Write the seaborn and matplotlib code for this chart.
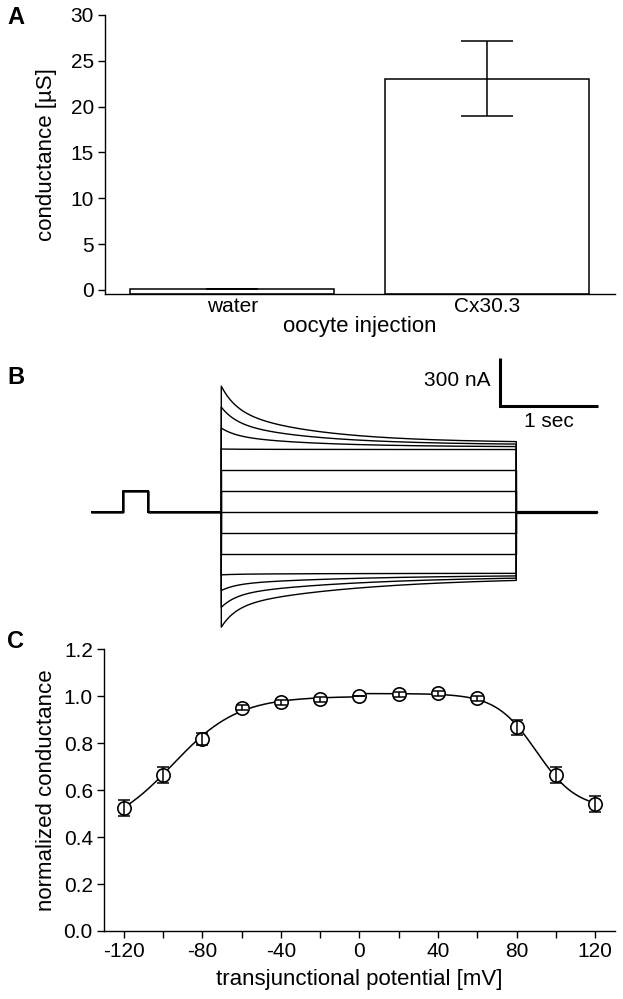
import numpy as np
import pandas as pd
import matplotlib
matplotlib.use("Agg")
import matplotlib.pyplot as plt
from matplotlib.ticker import MultipleLocator, FormatStrFormatter
import seaborn as sns

sns.set_theme(style="ticks")
plt.rcParams['font.family'] = ['Liberation Sans', 'DejaVu Sans']
plt.rcParams['axes.linewidth'] = 1.0
plt.rcParams['axes.unicode_minus'] = False
for k in ['text.color', 'axes.labelcolor', 'xtick.color', 'ytick.color', 'axes.edgecolor']:
    plt.rcParams[k] = 'black'

FS_TICK = 15
FS_LAB = 16

# ---------------- data ----------------
# A: conductance per injection
inj = ['water', 'Cx30.3']
cond_mean = [0.1, 23.05]
cond_err = [0.05, 4.1]

# B: current traces (nA), one per voltage step
vj_steps = [-120, -100, -80, -60, -40, -20, 0, 20, 40, 60, 80, 100, 120]
i_peak = [-720, -596, -491, -393, -262, -131, 0, 131, 262, 393, 524, 655, 786]
i_end = [-406, -400, -393, -383, -262, -131, 0, 131, 262, 390, 406, 419, 432]
prepulse_amp = 131
t_pre_on, t_pre_off = 0.33, 0.58
t_step_on, t_step_off = 1.33, 4.34
t_stop = 5.16
tau_fast, tau_slow_pos, tau_slow_neg, w_fast = 0.15, 0.9, 1.4, 0.4

# C: normalized conductance vs Vj
vj = [-120, -100, -80, -60, -40, -20, 0, 20, 40, 60, 80, 100, 120]
g_norm = [0.525, 0.665, 0.817, 0.952, 0.974, 0.987, 1.0, 1.009, 1.013, 0.991, 0.869, 0.665, 0.54]
g_err = [0.033, 0.035, 0.025, 0.012, 0.01, 0.01, 0.0, 0.01, 0.01, 0.01, 0.032, 0.033, 0.035]
# Boltzmann fit parameters (negative / positive side)
neg_gmin, neg_gmax, neg_v0, neg_a = 0.42, 1.0, -95, 0.06
pos_gmin, pos_gmax, pos_v0, pos_a = 0.52, 1.012, 90, 0.097

fig = plt.figure(figsize=(6.23, 9.99), dpi=100)

# ---------------- A ----------------
axA = fig.add_axes([0.1685, 0.7057, 0.8186, 0.2793])
sns.barplot(x=inj, y=cond_mean, color='white', saturation=1, edgecolor='black',
            linewidth=1.1, errorbar=None, width=0.8, ax=axA)
ymin = -0.45
axA.set_ylim(ymin, 30)
axA.set_xlim(-0.5, 1.5)
for p in axA.patches:
    h = p.get_height()
    p.set_y(ymin)
    p.set_height(h - ymin)
axA.errorbar(range(len(inj)), cond_mean, yerr=cond_err, fmt='none', ecolor='black',
             elinewidth=1.1, capsize=19, capthick=1.1)
axA.set_yticks(range(0, 31, 5))
axA.tick_params(axis='y', direction='out', length=5, width=1.0, labelsize=FS_TICK, pad=3)
axA.tick_params(axis='x', length=0, labelsize=FS_TICK, pad=2)
axA.set_ylabel('conductance [µS]', fontsize=FS_LAB, labelpad=10)
axA.set_xlabel('oocyte injection', fontsize=FS_LAB, labelpad=0)
sns.despine(ax=axA)

# ---------------- B ----------------
rows = []
t_step = np.linspace(0, t_step_off - t_step_on, 400)
for k, v in enumerate(vj_steps):
    tau_s = tau_slow_pos if i_peak[k] >= 0 else tau_slow_neg
    frac = w_fast * np.exp(-t_step / tau_fast) + (1 - w_fast) * np.exp(-t_step / tau_s)
    cur = i_end[k] + (i_peak[k] - i_end[k]) * frac
    tt = [0, t_pre_on, t_pre_on, t_pre_off, t_pre_off, t_step_on] + list(t_step_on + t_step) + [t_step_off, t_stop]
    ii = [0, 0, prepulse_amp, prepulse_amp, 0, 0] + list(cur) + [0, 0]
    rows.append(pd.DataFrame({'t': tt, 'i': ii, 'trace': v}))
traces = pd.concat(rows, ignore_index=True)

axB = fig.add_axes([0.146, 0.3674, 0.817, 0.2773])
sns.lineplot(data=traces, x='t', y='i', units='trace', estimator=None, sort=False,
             color='black', lw=1.0, ax=axB)
axB.plot([t_step_off, t_stop], [0, 0], color='black', lw=2.3, solid_capstyle='butt')
axB.set_xlim(0, 5.194)
axB.set_ylim(-750, 981)
axB.axis('off')
# scale bar 300 nA / 1 sec
sb_x, sb_y = 4.173, 662
axB.plot([sb_x, sb_x, sb_x + 1], [sb_y + 300, sb_y, sb_y], color='black', lw=2.2,
         solid_joinstyle='miter', solid_capstyle='butt')
axB.text(sb_x - 0.1, sb_y + 160, '300 nA', ha='right', va='center', fontsize=FS_TICK)
axB.text(sb_x + 0.5, sb_y - 95, '1 sec', ha='center', va='center', fontsize=FS_TICK)

# ---------------- C ----------------
axC = fig.add_axes([0.1669, 0.0681, 0.8202, 0.2818])
v_fit = np.linspace(-120, 120, 481)
g_fit = np.where(v_fit < 0,
                 neg_gmin + (neg_gmax - neg_gmin) / (1 + np.exp(-neg_a * (v_fit - neg_v0))),
                 pos_gmin + (pos_gmax - pos_gmin) / (1 + np.exp(pos_a * (v_fit - pos_v0))))
sns.lineplot(x=v_fit, y=g_fit, color='black', lw=1.1, ax=axC, zorder=1)
sns.scatterplot(x=vj, y=g_norm, marker='o', s=92, facecolor='white', edgecolor='black',
                linewidth=1.2, ax=axC, zorder=2)
axC.errorbar(vj, g_norm, yerr=g_err, fmt='none', ecolor='black', elinewidth=1.1,
             capsize=4, capthick=1.1, zorder=3)
axC.set_xlim(-130, 130)
axC.set_ylim(0, 1.2)
axC.xaxis.set_major_locator(MultipleLocator(40))
axC.xaxis.set_minor_locator(MultipleLocator(20))
axC.yaxis.set_major_locator(MultipleLocator(0.2))
axC.yaxis.set_major_formatter(FormatStrFormatter('%.1f'))
axC.tick_params(which='both', direction='out', length=5, width=1.0, labelsize=FS_TICK, pad=3)
axC.set_ylabel('normalized conductance', fontsize=FS_LAB, labelpad=5)
axC.set_xlabel('transjunctional potential [mV]', fontsize=FS_LAB, labelpad=6)
sns.despine(ax=axC)

# panel letters
for lab, y in [('A', 18), ('B', 377), ('C', 641)]:
    fig.text(16 / 623, 1 - y / 999, lab, fontsize=17, fontweight='bold', ha='center', va='center')

fig.savefig('out.png', dpi=100)
